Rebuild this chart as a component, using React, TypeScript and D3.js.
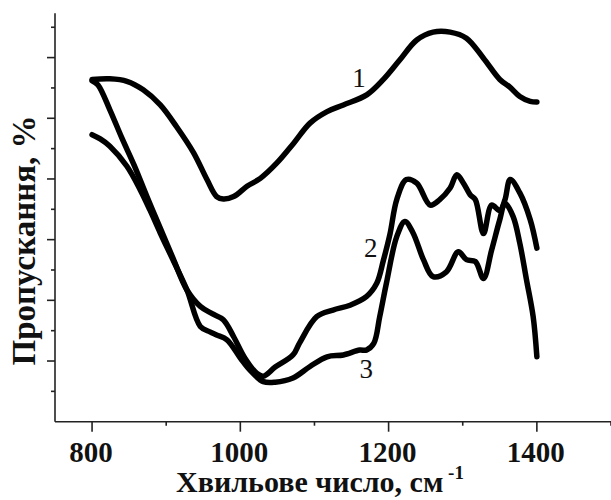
import * as d3 from "d3";
import React from "react";

// wavenumber (cm-1) and transmittance (arb. units)
const wave1 = [800, 824, 847, 869, 892, 914, 937, 955, 968, 977, 991, 1009, 1027, 1049, 1072, 1094, 1117, 1139, 1171, 1193, 1215, 1238, 1260, 1283, 1305, 1328, 1350, 1364, 1377, 1391, 1400];
const trans1 = [56.4, 56.5, 56.1, 54.7, 52.2, 48.6, 44.3, 39.9, 37.1, 36.7, 37.1, 38.8, 40.1, 42.6, 45.9, 49.2, 51.1, 52.2, 53.9, 56.4, 59.6, 62.9, 64.2, 64.2, 63.2, 59.9, 56.4, 55.1, 53.6, 52.8, 52.7];

const wave2 = [800, 808, 824, 840, 857, 874, 892, 909, 928, 946, 962, 977, 991, 1006, 1022, 1031, 1047, 1071, 1080, 1103, 1125, 1148, 1170, 1184, 1193, 1202, 1211, 1224, 1238, 1256, 1269, 1283, 1292, 1301, 1310, 1317, 1328, 1339, 1350, 1357, 1364, 1377, 1391, 1400];
const trans2 = [56.2, 55.5, 51.4, 46.8, 42.2, 37.1, 31.9, 27.0, 21.7, 19.0, 17.8, 16.8, 14.0, 10.5, 8.0, 7.5, 9.0, 11.0, 13.0, 17.3, 18.4, 19.2, 20.6, 22.8, 26.6, 31.0, 36.6, 39.9, 39.3, 35.7, 36.6, 38.5, 40.7, 39.3, 37.4, 36.6, 31.0, 35.7, 34.8, 36.6, 39.9, 37.7, 33.3, 28.6];

const wave3 = [800, 811, 824, 847, 865, 878, 892, 909, 928, 946, 959, 968, 982, 1000, 1013, 1031, 1047, 1071, 1094, 1117, 1139, 1161, 1170, 1180, 1188, 1197, 1211, 1222, 1233, 1247, 1260, 1278, 1294, 1305, 1317, 1328, 1339, 1350, 1357, 1368, 1377, 1386, 1395, 1400];
const trans3 = [47.3, 46.6, 45.4, 42.1, 38.2, 34.9, 31.1, 26.7, 21.7, 15.7, 14.8, 14.3, 13.5, 10.5, 8.5, 6.6, 6.5, 7.2, 9.1, 10.7, 11.0, 11.8, 11.8, 12.9, 17.3, 22.8, 30.5, 33.0, 31.1, 26.7, 23.9, 24.7, 28.0, 26.7, 26.4, 23.6, 28.3, 33.3, 36.0, 33.8, 29.4, 23.4, 17.3, 10.7];

const xTicks = [800, 1000, 1200, 1400];
const xMinor = [900, 1100, 1300, 1500];
const yMajor = [10, 20, 30, 40, 50, 60];
const yMinor = [5, 15, 25, 35, 45, 55, 65];

const curveLabels = [
  { text: "1", wave: 1160, value: 55.2 },
  { text: "2", wave: 1176, value: 27.2 },
  { text: "3", wave: 1170, value: 7.2 },
];

const font = "'Liberation Serif', 'Times New Roman', serif";

export default function App() {
  const width = 611;
  const height = 500;

  const x = d3.scaleLinear().domain([750, 1500]).range([55, 611]);
  const y = d3.scaleLinear().domain([0, 67.3]).range([421.7, 13.3]);

  const line = d3
    .line<[number, number]>()
    .x((d) => x(d[0]))
    .y((d) => y(d[1]))
    .curve(d3.curveCatmullRom.alpha(0.5));

  const series = [
    d3.zip(wave1, trans1),
    d3.zip(wave2, trans2),
    d3.zip(wave3, trans3),
  ] as [number, number][][];

  const x0 = x.range()[0];
  const y0 = y.range()[0];

  return (
    <svg
      width={width}
      height={height}
      style={{ position: "absolute", left: 0, top: 0, background: "#fff" }}
    >
      {/* axes */}
      <g stroke="#222" strokeWidth={1.6} fill="none">
        <line x1={x0} x2={x0} y1={y.range()[1]} y2={y0} />
        <line x1={x0} x2={x.range()[1]} y1={y0} y2={y0} />
        {yMajor.map((v) => (
          <line key={"ym" + v} x1={x0 - 8} x2={x0} y1={y(v)} y2={y(v)} />
        ))}
        {yMinor.map((v) => (
          <line key={"yn" + v} x1={x0 - 4} x2={x0} y1={y(v)} y2={y(v)} />
        ))}
        {xTicks.map((v) => (
          <line key={"xm" + v} x1={x(v)} x2={x(v)} y1={y0} y2={y0 + 10} />
        ))}
        {xMinor.map((v) => (
          <line key={"xn" + v} x1={x(v)} x2={x(v)} y1={y0} y2={y0 + 4} />
        ))}
      </g>

      {xTicks.map((v) => (
        <text
          key={"xl" + v}
          x={x(v) - 1}
          y={462}
          textAnchor="middle"
          fontFamily={font}
          fontWeight="bold"
          fontSize={29}
          fill="#111"
        >
          {v}
        </text>
      ))}

      <text
        x={320}
        y={492}
        textAnchor="middle"
        fontFamily={font}
        fontWeight="bold"
        fontSize={30}
        fill="#111"
      >
        Хвильове число, см
        <tspan fontSize={19} dy={-13}>
          {" -1"}
        </tspan>
      </text>

      <text
        transform={`translate(35, 240.5) rotate(-90)`}
        textAnchor="middle"
        fontFamily={font}
        fontWeight="bold"
        fontSize={33}
        fill="#111"
      >
        Пропускання, %
      </text>

      {/* spectra */}
      <g fill="none" stroke="#000" strokeWidth={5.5} strokeLinejoin="round" strokeLinecap="round">
        {series.map((s, i) => (
          <path key={i} d={line(s) ?? ""} />
        ))}
      </g>

      {curveLabels.map((l) => (
        <text
          key={l.text}
          x={x(l.wave)}
          y={y(l.value)}
          textAnchor="middle"
          fontFamily={font}
          fontSize={27}
          fill="#111"
        >
          {l.text}
        </text>
      ))}
    </svg>
  );
}
